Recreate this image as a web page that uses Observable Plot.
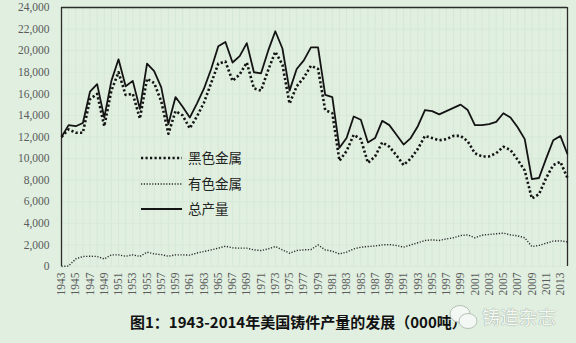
<!DOCTYPE html>
<html><head><meta charset="utf-8">
<script src="https://cdn.jsdelivr.net/npm/d3@7"></script>
<script src="https://cdn.jsdelivr.net/npm/@observablehq/plot@0.6"></script>
<style>
html,body{margin:0;padding:0;background:#e0efe0;}
#wrap{position:relative;width:576px;height:343px;overflow:hidden;background:#e0efe0;}
#chart svg{display:block;}
.legend{position:absolute;left:141px;top:0;font-family:"Noto Sans CJK SC",sans-serif;font-size:13.5px;color:#222;line-height:1;}
.legend .row{position:absolute;left:0;height:16px;display:flex;align-items:center;white-space:nowrap;}
.legend svg{margin-right:6px;}
#caption{position:absolute;left:130px;top:311px;font-family:"Noto Sans CJK SC",sans-serif;font-weight:bold;font-size:15px;color:#111;white-space:nowrap;}
#wm{position:absolute;left:482px;top:303px;font-family:"Noto Sans CJK SC",sans-serif;font-size:18.5px;color:#f4f8f4;text-shadow:0 0 1px #9aa69a,0 0 1px #9aa69a;white-space:nowrap;}
#wmicon{position:absolute;left:449px;top:303px;}
</style>
</head><body>
<div id="wrap">
  <div id="chart"></div>
  <div class="legend" id="legend"></div>
  <div id="caption"></div>
  <div id="wm">铸造杂志</div>
  <svg id="wmicon" width="30" height="30">
    <ellipse cx="11" cy="11" rx="10" ry="8.5" fill="#f4f8f4" stroke="#b5c0b5" stroke-width="1"/>
    <ellipse cx="19" cy="18" rx="9" ry="7.5" fill="#f4f8f4" stroke="#b5c0b5" stroke-width="1"/>
  </svg>
</div>
<script>
const years = d3.range(1943, 2015);
const seriesNames = ["黑色金属", "有色金属", "总产量"];
const ferrous = [
  12000,12700,12400,12400,15500,16000,13000,16300,18000,15900,
  16000,13700,17400,17000,15300,12300,14400,14000,12800,13900,
  15200,17000,18800,19000,17200,17800,18900,16500,16300,18200,
  19900,18700,15100,16700,17500,18600,18300,14500,14200,9800,
  10700,12200,11800,9600,10200,11500,11100,10300,9400,10000,
  10900,12100,11900,11700,11800,12100,12100,11600,10500,10200,
  10200,10500,11100,10800,9900,8900,6300,6700,8200,9400,
  9700,8200
];
const nonferrous = [
  0,50,700,930,950,930,700,1080,1080,950,
  1080,930,1330,1170,1100,950,1080,1080,1050,1250,
  1390,1540,1700,1880,1730,1700,1700,1540,1480,1630,
  1850,1540,1230,1480,1540,1570,2000,1540,1420,1170,
  1330,1630,1790,1850,1900,2000,2030,1950,1790,2000,
  2200,2410,2470,2410,2560,2660,2870,2930,2660,2900,
  2970,3030,3090,2930,2840,2660,1850,1950,2160,2350,
  2380,2280
];
const total = [
  12000,13100,13000,13300,16200,16900,13800,17200,19200,16700,
  17200,14600,18800,18100,16600,13200,15700,14800,13800,15100,
  16500,18300,20400,20800,18900,19500,20700,18000,17900,20000,
  21800,20200,16300,18300,19100,20300,20300,15900,15700,11000,
  11900,13900,13600,11500,11900,13500,13100,12200,11300,11900,
  13000,14500,14400,14100,14400,14700,15000,14500,13100,13100,
  13200,13400,14200,13800,12900,11800,8100,8200,10000,11700,
  12100,10400
];
const xTicks = d3.range(1943, 2014, 2);
const yTicks = d3.range(0, 24001, 2000);

const styles = {
  "黑色金属": {stroke:"#141414", strokeWidth:2.6, dash:"2.2,2.3"},
  "有色金属": {stroke:"#2a2a2a", strokeWidth:1.4, dash:"1.2,1.6"},
  "总产量":   {stroke:"#141414", strokeWidth:1.8, dash:null}
};
const seriesValues = [ferrous, nonferrous, total];
const rows = [];
seriesNames.forEach((name, i) => years.forEach((y, j) => rows.push({series:name, year:y, value:seriesValues[i][j]})));

const lineMarks = seriesNames.map(name => Plot.lineY(rows.filter(d => d.series === name), {
  x:"year", y:"value",
  stroke: styles[name].stroke,
  strokeWidth: styles[name].strokeWidth,
  strokeDasharray: styles[name].dash || undefined,
  strokeLinejoin:"round", strokeLinecap:"butt"
}));

const chart = Plot.plot({
  width:576, height:300,
  marginLeft:61, marginRight:9, marginTop:7, marginBottom:34,
  style:{background:"transparent", fontFamily:"'Liberation Serif', serif", fontSize:"11.5px", color:"#5a5a5a", overflow:"visible"},
  x:{domain:[1943,2014], ticks:xTicks, tickFormat:d => String(d), tickRotate:-90, tickSize:0, tickPadding:6, label:null},
  y:{domain:[0,24000], ticks:yTicks, tickFormat:d3.format(","), tickSize:0, tickPadding:12, label:null},
  marks:[
    Plot.gridX(years, {stroke:"#d6e8d6", strokeOpacity:1, strokeWidth:1}),
    Plot.gridY(yTicks, {stroke:"#d8e9d8", strokeOpacity:1, strokeWidth:1}),
    Plot.ruleX([1943, 2014], {stroke:"#2b2b2b", strokeWidth:1.3}),
    Plot.ruleY([24000], {stroke:"#2b2b2b", strokeWidth:1.3}),
    ...lineMarks
  ]
});
document.getElementById("chart").appendChild(chart);

// legend
const legend = document.getElementById("legend");
const legendTops = [150, 176, 201];
seriesNames.forEach((name, i) => {
  const s = styles[name];
  const row = document.createElement("div");
  row.className = "row";
  row.style.top = legendTops[i] + "px";
  row.innerHTML = `<svg width="41" height="16"><line x1="0" x2="41" y1="8" y2="8" stroke="${s.stroke}" stroke-width="${s.strokeWidth}" ${s.dash ? `stroke-dasharray="${s.dash}"` : ""}/></svg><span>${name}</span>`;
  legend.appendChild(row);
});

document.getElementById("caption").textContent = "图1：1943-2014年美国铸件产量的发展（000吨）";
</script>
</body></html>
